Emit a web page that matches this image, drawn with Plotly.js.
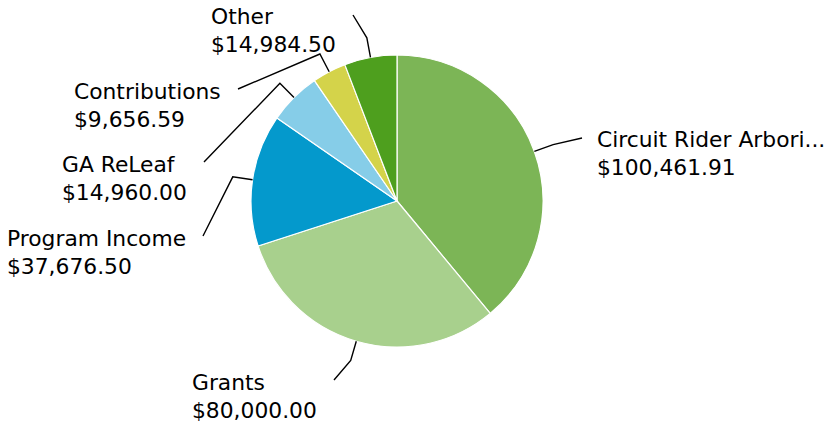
<!DOCTYPE html>
<html>
<head>
<meta charset="utf-8">
<script src="https://cdn.plot.ly/plotly-3.0.1.min.js"></script>
<style>html,body{margin:0;padding:0;background:#fff;}#chart{width:832px;height:427px;}</style>
</head>
<body>
<div id="chart"></div>
<script>
// ---- data ----
const labels = ["Circuit Rider Arbori...", "Grants", "Program Income", "GA ReLeaf", "Contributions", "Other"];
const values = [100461.91, 80000.00, 37676.50, 14960.00, 9656.59, 14984.50];
const colors = ["#7cb556", "#a8d08d", "#0499cc", "#86cde8", "#d4d34a", "#4e9f1e"];

// ---- layout constants (pixels) ----
const W = 832, H = 427;
const CX = 397, CY = 201, R = 146;
const BEND = 20;               // connector elbow distance outside the pie
// label anchor points (where connectors end)
const anchorX = [582, 334, 203, 204, 238, 353];
const anchorY = [138, 380, 236, 162, 89, 15];
const gapRight = 13, gapLeft = 15, labelDy = 16;
const FONT = {family: "DejaVu Sans, Verdana, sans-serif", size: 21.8, color: "#000"};

function fmt(v){
  return "$" + v.toLocaleString("en-US", {minimumFractionDigits: 2, maximumFractionDigits: 2});
}
const px = x => x / W;
const py = y => 1 - y / H;

const total = values.reduce((a, b) => a + b, 0);
let cum = 0;
const shapes = [], annotations = [];
values.forEach((v, i) => {
  const mid = (cum + v / 2) / total * 2 * Math.PI; // clockwise from 12 o'clock
  cum += v;
  const sx = CX + R * Math.sin(mid), sy = CY - R * Math.cos(mid);
  const bx = CX + (R + BEND) * Math.sin(mid), by = CY - (R + BEND) * Math.cos(mid);
  const ex = anchorX[i], ey = anchorY[i];
  shapes.push({
    type: "path", xref: "paper", yref: "paper",
    path: `M ${px(sx)},${py(sy)} L ${px(bx)},${py(by)} L ${px(ex)},${py(ey)}`,
    line: {color: "#000", width: 1.4}
  });
  const right = ex > CX;
  annotations.push({
    xref: "paper", yref: "paper",
    x: px(right ? ex + gapRight : ex - gapLeft),
    y: py(ey + labelDy),
    xanchor: right ? "left" : "right", yanchor: "middle",
    align: "left", showarrow: false,
    text: labels[i] + "<br>" + fmt(v),
    font: FONT
  });
});

const trace = {
  type: "pie",
  labels: labels, values: values,
  sort: false, direction: "clockwise", rotation: 0,
  marker: {colors: colors, line: {color: "#ffffff", width: 1.2}},
  textinfo: "none", hoverinfo: "none",
  domain: {x: [(CX - R) / W, (CX + R) / W], y: [(H - CY - R) / H, (H - CY + R) / H]}
};

Plotly.newPlot("chart", [trace], {
  width: W, height: H,
  margin: {l: 0, r: 0, t: 0, b: 0},
  paper_bgcolor: "#fff", plot_bgcolor: "#fff",
  showlegend: false,
  shapes: shapes, annotations: annotations
}, {displayModeBar: false, staticPlot: true});
</script>
</body>
</html>
